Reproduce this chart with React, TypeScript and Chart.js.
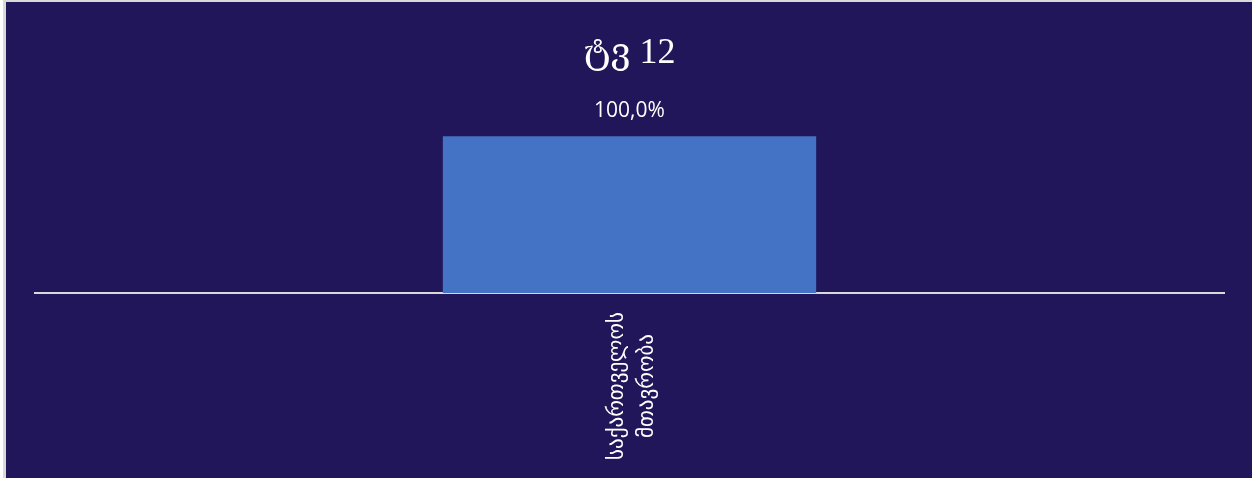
import React, { useEffect, useRef } from "react";
import { Chart, registerables } from "chart.js";

Chart.register(...registerables);

const chartTitle = "ტვ 12";
const categories: string[][] = [["საქართველოს", "მთავრობა"]];
const values: number[] = [1.0];
const valueLabels: string[] = ["100,0%"];

const NAVY = "#201659";
const BAR = "#4472C4";
const AXIS = "#D9D9D9";

const valueLabelPlugin = {
  id: "valueLabelPlugin",
  afterDatasetsDraw(chart: any) {
    const ctx = chart.ctx;
    const meta = chart.getDatasetMeta(0);
    ctx.save();
    ctx.fillStyle = "#FFFFFF";
    ctx.font = "21px 'Open Sans', 'DejaVu Sans', sans-serif";
    ctx.textAlign = "center";
    ctx.textBaseline = "middle";
    meta.data.forEach((bar: any, i: number) => {
      ctx.fillText(valueLabels[i], bar.x, bar.y - 25);
    });
    ctx.restore();
  },
};

const xLabelPlugin = {
  id: "xLabelPlugin",
  afterDraw(chart: any) {
    const ctx = chart.ctx;
    const xScale = chart.scales.x;
    const area = chart.chartArea;
    ctx.save();
    ctx.fillStyle = "#FFFFFF";
    ctx.font = "21px 'DejaVu Sans', sans-serif";
    ctx.textAlign = "center";
    ctx.textBaseline = "middle";
    categories.forEach((lines, i) => {
      const x = xScale.getPixelForValue(i);
      ctx.save();
      ctx.translate(x + 3, area.bottom + 93);
      ctx.rotate(-Math.PI / 2);
      const lh = 30;
      lines.forEach((line, j) => {
        ctx.fillText(line, 0, (j - (lines.length - 1) / 2) * lh);
      });
      ctx.restore();
    });
    ctx.restore();
  },
};

export default function App() {
  const canvasRef = useRef<HTMLCanvasElement | null>(null);

  useEffect(() => {
    if (!canvasRef.current) return;
    const chart = new Chart(canvasRef.current, {
      type: "bar",
      data: {
        labels: categories.map((c) => c.join(" ")),
        datasets: [
          {
            data: values,
            backgroundColor: BAR,
            borderWidth: 0,
            barPercentage: 0.314,
            categoryPercentage: 1,
          },
        ],
      },
      options: {
        animation: false,
        responsive: true,
        maintainAspectRatio: false,
        layout: { padding: { left: 29, right: 28, top: 0, bottom: 185 } },
        plugins: {
          legend: { display: false },
          tooltip: { enabled: false },
          title: {
            display: true,
            text: chartTitle,
            color: "#FFFFFF",
            font: { family: "'Liberation Serif', 'DejaVu Serif', serif", size: 36, weight: "normal" },
            padding: { top: 30, bottom: 28 },
          },
        },
        scales: {
          x: {
            grid: { display: false, drawTicks: false },
            border: { display: true, color: AXIS, width: 2 },
            ticks: { display: false },
          },
          y: {
            display: false,
            min: 0,
            max: 1.21,
          },
        },
      },
      plugins: [valueLabelPlugin, xLabelPlugin],
    });
    return () => chart.destroy();
  }, []);

  return (
    <div style={{ position: "absolute", left: 0, top: 0, width: 1252, height: 478, background: "#FFFFFF" }}>
      <div
        style={{
          position: "absolute",
          left: 3,
          top: 0,
          width: 1249,
          height: 478,
          boxSizing: "border-box",
          borderTop: "2px solid #D9D9D9",
          borderLeft: "3px solid #D9D9D9",
          background: NAVY,
        }}
      >
        <div style={{ position: "relative", width: 1246, height: 476 }}>
          <canvas ref={canvasRef} />
        </div>
      </div>
    </div>
  );
}
